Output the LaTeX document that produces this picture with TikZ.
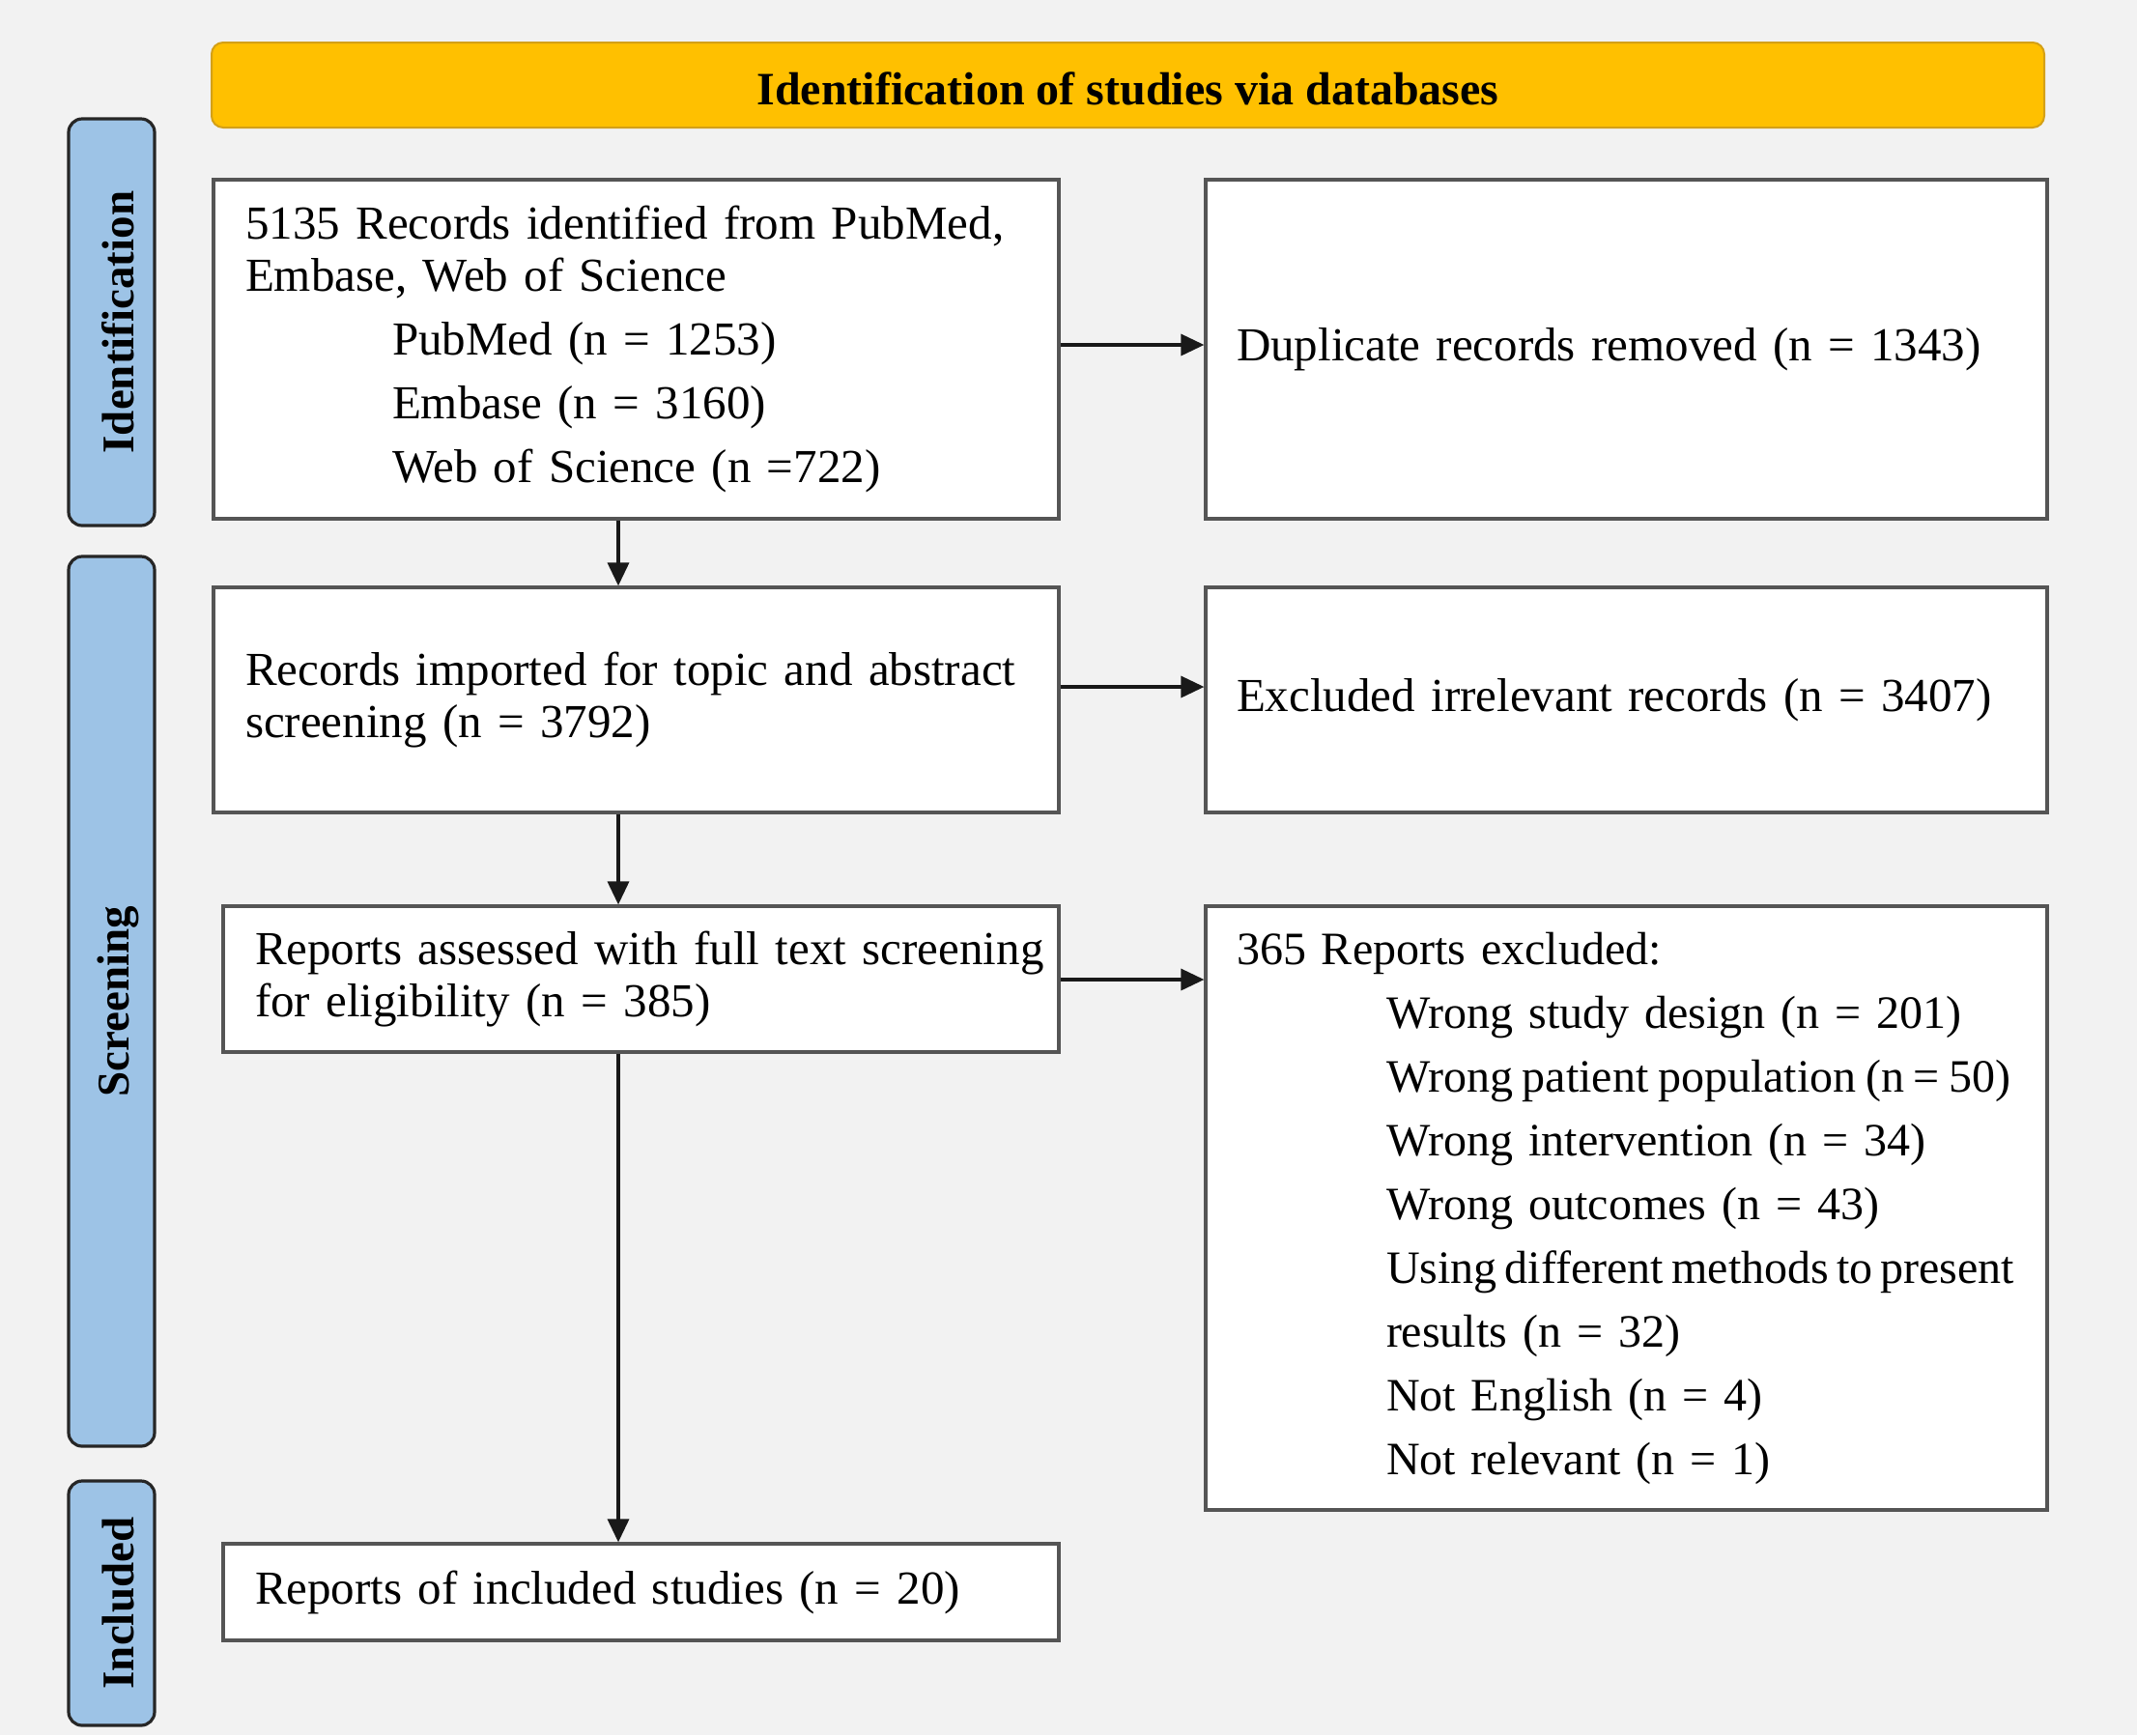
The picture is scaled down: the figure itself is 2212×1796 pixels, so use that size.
\documentclass[tikz,border=0pt]{standalone}
\usepackage{fontspec}
\setmainfont{Liberation Serif}
\usetikzlibrary{arrows.meta}
\definecolor{bgc}{HTML}{F2F2F2}
\definecolor{boxline}{HTML}{555555}
\definecolor{tabfill}{HTML}{9DC3E6}
\definecolor{tabline}{HTML}{262626}
\definecolor{banfill}{HTML}{FFC000}
\definecolor{banline}{HTML}{D4A017}
\newcommand{\lowertext}[2]{\raisebox{-#1}[\height][\depth]{#2}}
\tikzset{
  box/.style={draw=boxline, line width=1.6pt, fill=white, inner xsep=16.5pt, inner ysep=0pt,
    align=left, font=\fontsize{24.5}{27}\selectfont, anchor=center},
  tab/.style={draw=tabline, line width=1.6pt, fill=tabfill, rounded corners=7pt, rotate=90,
    inner sep=0pt, font=\bfseries\fontsize{23.5}{26}\selectfont, minimum height=44.5pt},
  banner/.style={draw=banline, line width=1pt, fill=banfill, rounded corners=6pt, inner sep=0pt,
    font=\bfseries\fontsize{24}{26}\selectfont},
  arr/.style={line width=1.7pt, draw=black!90, -{Triangle[length=12pt,width=11pt]}},
}
\begin{document}
\begin{tikzpicture}[x=0.5pt,y=-0.5pt]
\fill[bgc] (0,0) rectangle (2212,1796);
\useasboundingbox (0,0) rectangle (2212,1796);

% banner
\node[banner, minimum width=948.5pt, minimum height=44pt] (ban) at (1167.5,88) {\lowertext{2pt}{Identification of studies via databases}};

% side tabs
\node[tab, minimum width=210.5pt] (tabI) at (115.5,333.5) {\lowertext{3.5pt}{Identification}};
\node[tab, minimum width=460.5pt] (tabS) at (115.5,1036.5) {\lowertext{3.5pt}{Screening}};
\node[tab, minimum width=126.5pt] (tabN) at (115.5,1659.5) {\lowertext{3.5pt}{Included}};

% left column
\node[box, text width=404.5pt, minimum height=175.5pt] (b1) at (658.5,361.5) {%
\mbox{5135 Records identified from PubMed,}\\
\mbox{Embase, Web of Science}\\[6pt]
\mbox{\hspace*{76pt}PubMed (n = 1253)}\\[6pt]
\mbox{\hspace*{76pt}Embase (n = 3160)}\\[6pt]
\mbox{\hspace*{76pt}Web of Science (n =722)}};

\node[box, text width=404.5pt, minimum height=116.5pt] (b2) at (658.5,724.5) {%
\mbox{Records imported for topic and abstract}\\
\mbox{screening (n = 3792)}};

\node[box, text width=399.5pt, minimum height=75.5pt] (b3) at (663.5,1013.5) {%
\mbox{Reports assessed with full text screening}\\
\mbox{for eligibility (n = 385)}};

\node[box, text width=399.5pt, minimum height=50pt] (b4) at (663.5,1648) {%
\mbox{Reports of included studies (n = 20)}};

% right column
\node[box, inner xsep=16pt, text width=403.5pt, minimum height=175.5pt] (dup) at (1683.5,361.5) {%
\mbox{Duplicate records removed (n = 1343)}};

\node[box, inner xsep=16pt, text width=403.5pt, minimum height=116.5pt] (ex1) at (1683.5,724.5) {%
\mbox{Excluded irrelevant records (n = 3407)}};

\node[box, inner xsep=16pt, text width=403.5pt, minimum height=312.5pt,
      font=\fontsize{24}{33}\selectfont] (ex2) at (1683.5,1250.5) {%
\mbox{365 Reports excluded:}\\
\mbox{\hspace*{77.5pt}Wrong study design (n = 201)}\\
\mbox{\hspace*{77.5pt}\spaceskip=0.2em Wrong patient population (n = 50)}\\
\mbox{\hspace*{77.5pt}Wrong intervention (n = 34)}\\
\mbox{\hspace*{77.5pt}Wrong outcomes (n = 43)}\\
\mbox{\hspace*{77.5pt}\spaceskip=0.17em Using different methods to present}\\
\mbox{\hspace*{77.5pt}results (n = 32)}\\
\mbox{\hspace*{77.5pt}Not English (n = 4)}\\
\mbox{\hspace*{77.5pt}Not relevant (n = 1)}};

% helper coordinates
\coordinate (ax) at (640,0);
\coordinate (r1) at (0,357);
\coordinate (r2) at (0,711);
\coordinate (r3) at (0,1014);

% connectors
\draw[arr] (b1.south -| ax) -- (b2.north -| ax);
\draw[arr] (b2.south -| ax) -- (b3.north -| ax);
\draw[arr] (b3.south -| ax) -- (b4.north -| ax);
\draw[arr] (b1.east |- r1) -- (dup.west |- r1);
\draw[arr] (b2.east |- r2) -- (ex1.west |- r2);
\draw[arr] (b3.east |- r3) -- (ex2.west |- r3);
\end{tikzpicture}
\end{document}
